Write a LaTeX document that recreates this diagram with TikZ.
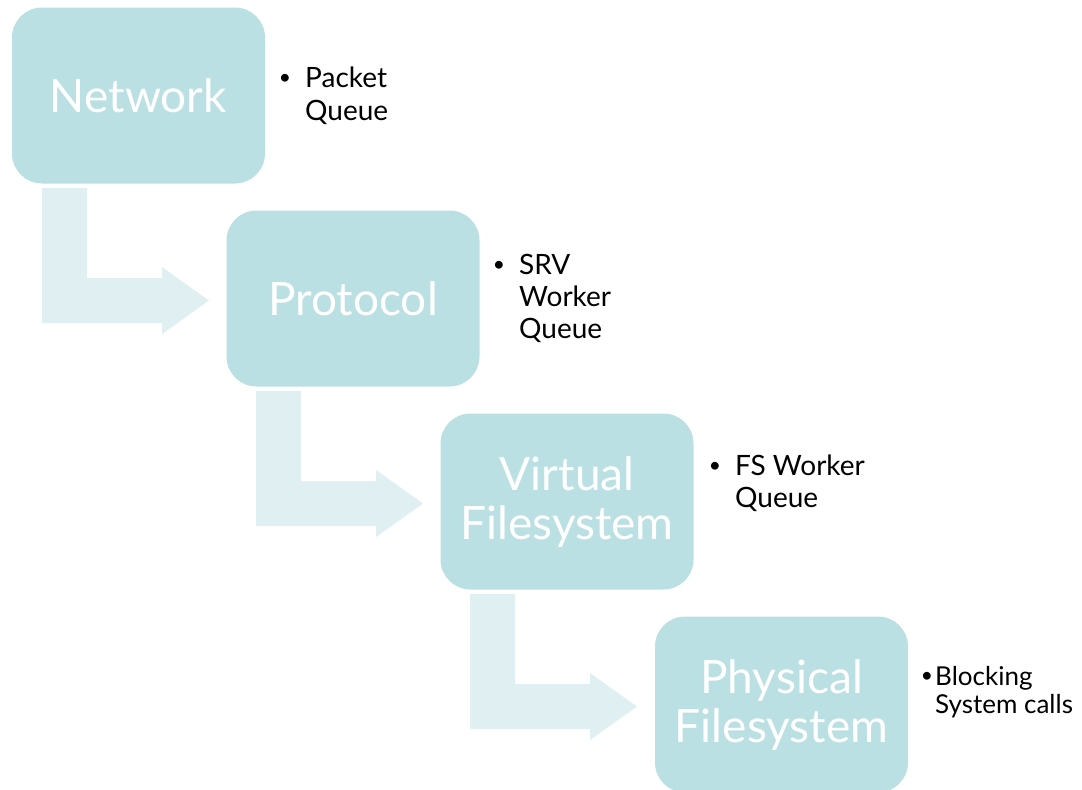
\documentclass[tikz,border=0pt]{standalone}
\usepackage{fontspec}
\setmainfont{Lato}
\usetikzlibrary{calc}
\definecolor{boxfill}{RGB}{187,224,227}
\definecolor{arrfill}{RGB}{223,239,242}
\tikzset{
  stage/.style={fill=boxfill, draw=none, rounded corners=30pt, minimum width=253pt,
    minimum height=176pt, inner sep=0pt, align=center, text=white,
    font=\fontsize{46}{49}\selectfont},
  bul/.style={anchor=base, inner sep=0pt, font=\fontsize{21}{24}\selectfont},
  line/.style={anchor=base west, inner sep=0pt, font=\fontsize{28}{32}\selectfont},
  bentarrow/.style={fill=arrfill, draw=none}
}
\begin{document}
\begin{tikzpicture}[x=1pt,y=-1pt]
\useasboundingbox (0,0) rectangle (1082,790);
% bent arrows (drawn first, below boxes)
\foreach \k in {0,1,2}{
  \begin{scope}[shift={(214*\k,203*\k)}]
    \fill[bentarrow] (42,188) -- (87,188) -- (87,278) -- (162,278) -- (162,267)
      -- (209,300.5) -- (162,334) -- (162,323) -- (42,323) -- cycle;
  \end{scope}
}
\node[stage] (net) at (138.5,95.5) {Network};
\node[stage] (prot) at (353,298.5) {Protocol};
\node[stage] (vfs) at (567,501.5) {Virtual\\Filesystem};
\node[stage] (pfs) at (781.5,704.5) {Physical\\Filesystem};
% bullets
\node[bul] (b1) at (285,84) {•};
\node[line] (t1a) at (305,87) {Packet};
\node[line] (t1b) at (305,120) {Queue};
\node[bul] (b2) at (499,271) {•};
\node[line] (t2a) at (519,274) {SRV};
\node[line] (t2b) at (519,306) {Worker};
\node[line] (t2c) at (519,338) {Queue};
\node[bul] (b3) at (715,472) {•};
\node[line] (t3a) at (735,475) {FS Worker};
\node[line] (t3b) at (735,507) {Queue};
\node[bul] (b4) at (927,682) {•};
\node[line, font=\fontsize{26}{30}\selectfont] (t4a) at (935,685) {Blocking};
\node[line, font=\fontsize{26}{30}\selectfont] (t4b) at (935,713) {System calls};
\end{tikzpicture}
\end{document}
